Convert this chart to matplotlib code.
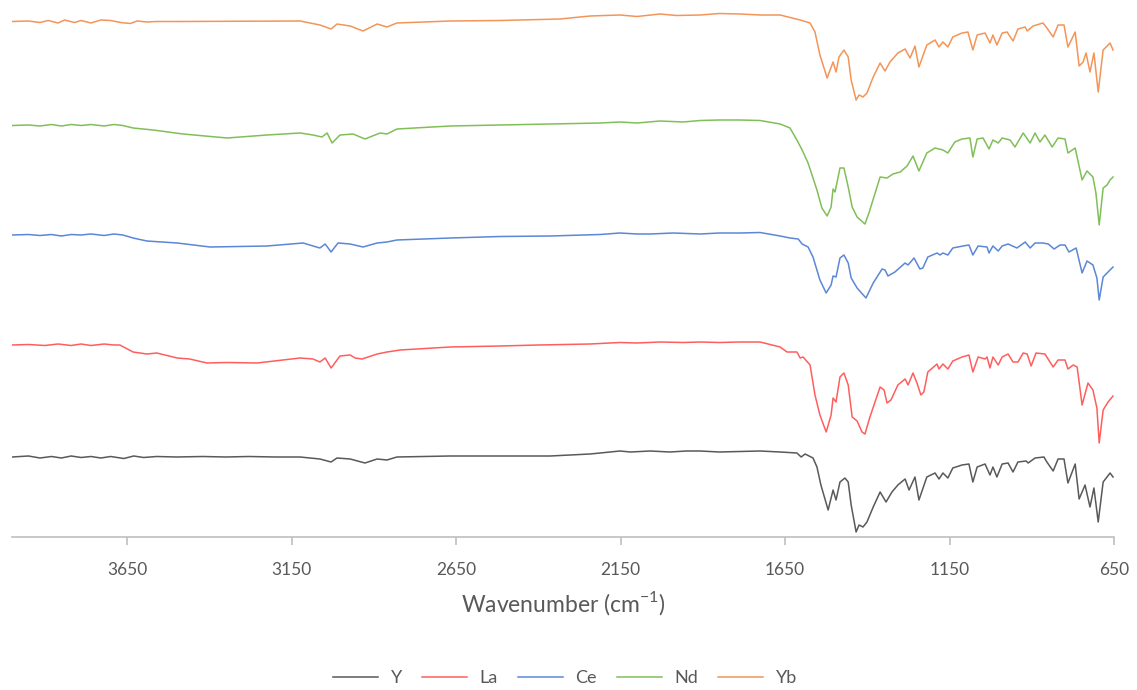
import matplotlib
matplotlib.use('Agg')
import numpy as np
from matplotlib import pyplot as plt

# stacked FTIR spectra, arbitrary transmittance units (already offset)
y_wn = [4000, 3950, 3915, 3880, 3850, 3820, 3790, 3760, 3730, 3700, 3660, 3630, 3600, 3560,
        3500, 3420, 3350, 3280, 3200, 3124, 3064, 3030, 3012, 2972, 2927, 2890, 2860, 2830,
        2668, 2500, 2364, 2243, 2212, 2152, 2120, 2060, 2000, 1950, 1908, 1850, 1787, 1726,
        1665, 1614, 1601, 1589, 1565, 1553, 1541, 1519, 1504, 1495, 1483, 1468, 1458, 1449,
        1434, 1425, 1413, 1401, 1382, 1361, 1343, 1325, 1307, 1285, 1273, 1255, 1243, 1219,
        1194, 1182, 1170, 1155, 1140, 1112, 1091, 1079, 1066, 1042, 1027, 1018, 1006, 990,
        972, 957, 942, 917, 911, 890, 863, 854, 835, 820, 802, 790, 768, 756, 738, 723, 711,
        698, 683, 662, 653]
y_t = [16.6, 16.8, 16.4, 16.7, 16.4, 16.8, 16.5, 16.7, 16.4, 16.7, 16.3, 16.8, 16.5, 16.7,
       16.6, 16.7, 16.6, 16.7, 16.6, 16.6, 16.2, 15.6, 16.4, 16.2, 15.4, 16.2, 16.0, 16.6,
       16.8, 16.8, 16.8, 17.2, 17.4, 17.8, 17.6, 17.8, 17.6, 17.8, 17.8, 17.6, 17.7, 17.8,
       17.6, 17.4, 16.6, 17.2, 16.4, 14.6, 11.0, 6.0, 10.0, 8.0, 11.6, 12.4, 11.6, 7.0,
       1.6, 3.0, 2.6, 3.6, 6.6, 9.6, 7.6, 9.6, 11.0, 12.2, 10.0, 12.6, 8.0, 12.6,
       13.4, 12.2, 13.4, 12.4, 14.4, 15.0, 15.2, 11.6, 14.6, 15.2, 13.0, 14.6, 12.6, 15.2,
       15.4, 13.6, 15.6, 15.8, 15.4, 16.4, 16.6, 15.6, 13.8, 16.2, 16.2, 11.4, 15.2, 8.2,
       11.0, 6.6, 10.4, 3.6, 11.6, 13.4, 12.6]

la_wn = [4000, 3950, 3900, 3860, 3820, 3790, 3760, 3720, 3690, 3672, 3632, 3590, 3560, 3498,
         3460, 3407, 3346, 3255, 3124, 3085, 3064, 3048, 3030, 3003, 2972, 2957, 2936, 2890,
         2860, 2820, 2668, 2516, 2400, 2243, 2152, 2100, 2030, 1960, 1908, 1850, 1787, 1726,
         1665, 1644, 1614, 1604, 1595, 1574, 1559, 1544, 1525, 1510, 1504, 1495, 1483, 1471,
         1458, 1446, 1431, 1416, 1407, 1392, 1361, 1349, 1340, 1328, 1307, 1285, 1276, 1261,
         1249, 1237, 1228, 1216, 1188, 1182, 1170, 1155, 1140, 1112, 1091, 1079, 1063, 1042,
         1036, 1027, 1018, 1002, 990, 972, 957, 942, 926, 914, 902, 887, 860, 835, 820, 799,
         790, 774, 762, 747, 729, 714, 702, 695, 683, 668, 653]
la_t = [39.0, 39.1, 38.9, 39.2, 38.9, 39.2, 38.9, 39.2, 39.0, 39.0, 37.6, 37.2, 37.4, 36.4,
        36.2, 35.4, 35.5, 35.4, 36.4, 36.2, 35.6, 36.4, 34.4, 36.8, 37.0, 36.4, 36.2, 37.2,
        37.6, 38.0, 38.6, 38.8, 39.0, 39.2, 39.5, 39.4, 39.6, 39.5, 39.6, 39.5, 39.6, 39.6,
        38.6, 37.6, 37.6, 36.4, 36.6, 35.0, 29.0, 25.0, 21.6, 25.0, 28.4, 27.6, 32.6, 33.4,
        31.0, 24.6, 23.8, 21.6, 21.2, 24.6, 30.6, 30.0, 27.4, 28.0, 31.0, 32.2, 31.0, 33.4,
        31.4, 29.0, 29.6, 33.6, 35.2, 34.2, 35.2, 34.2, 35.8, 36.6, 37.0, 33.6, 36.6, 36.2,
        36.6, 34.4, 36.6, 35.0, 36.6, 37.2, 35.6, 35.6, 37.4, 37.2, 34.8, 37.4, 37.2, 34.6,
        36.0, 36.0, 34.2, 35.0, 34.6, 27.0, 31.4, 30.0, 26.4, 19.4, 26.0, 27.6, 28.8]

ce_wn = [4000, 3950, 3915, 3880, 3850, 3820, 3790, 3760, 3720, 3690, 3663, 3632, 3590, 3498,
         3398, 3225, 3115, 3064, 3048, 3030, 3009, 2972, 2933, 2890, 2860, 2830, 2668, 2516,
         2364, 2212, 2152, 2100, 2060, 1990, 1908, 1850, 1787, 1726, 1665, 1635, 1610, 1598,
         1580, 1565, 1544, 1525, 1510, 1504, 1495, 1483, 1471, 1458, 1449, 1431, 1404, 1382,
         1355, 1346, 1337, 1316, 1285, 1276, 1258, 1240, 1231, 1216, 1188, 1179, 1170, 1155,
         1140, 1109, 1091, 1079, 1063, 1036, 1030, 1018, 1002, 990, 972, 945, 920, 905, 890,
         866, 850, 832, 814, 799, 787, 765, 747, 732, 714, 702, 695, 683, 668, 653]
ce_t = [61.0, 61.1, 60.9, 61.1, 60.8, 61.1, 61.0, 61.2, 60.9, 61.2, 61.0, 60.4, 59.8, 59.4,
        58.6, 58.8, 59.4, 58.4, 59.2, 57.6, 59.4, 59.2, 58.6, 59.4, 59.6, 60.0, 60.4, 60.7,
        60.8, 61.1, 61.4, 61.2, 61.2, 61.4, 61.2, 61.4, 61.4, 61.5, 60.8, 60.4, 60.2, 59.2,
        58.6, 56.6, 52.0, 49.4, 51.0, 52.8, 52.6, 56.4, 57.0, 55.4, 52.4, 50.4, 48.4, 51.4,
        54.2, 54.0, 52.8, 53.6, 55.4, 55.0, 56.4, 54.2, 54.4, 56.6, 57.4, 57.0, 57.4, 57.0,
        58.4, 58.8, 59.0, 57.0, 58.8, 58.6, 57.4, 58.8, 57.8, 58.8, 59.2, 58.4, 59.6, 58.4, 59.4,
        59.4, 59.2, 58.2, 59.0, 59.0, 57.6, 58.4, 53.4, 55.8, 55.0, 52.4, 48.0, 52.6, 53.6, 54.6]

nd_wn = [4000, 3950, 3915, 3880, 3850, 3820, 3790, 3760, 3720, 3690, 3663, 3632, 3571, 3480,
         3346, 3225, 3124, 3085, 3058, 3042, 3027, 3003, 2963, 2927, 2881, 2860, 2830, 2668,
         2516, 2364, 2212, 2152, 2100, 2030, 1960, 1908, 1850, 1787, 1726, 1665, 1635, 1614,
         1598, 1580, 1553, 1538, 1522, 1510, 1504, 1498, 1483, 1471, 1458, 1446, 1431, 1407,
         1395, 1361, 1340, 1322, 1300, 1279, 1261, 1243, 1219, 1194, 1170, 1155, 1134, 1112,
         1088, 1079, 1066, 1048, 1030, 1018, 1002, 990, 966, 951, 926, 905, 890, 875, 860, 838,
         820, 799, 790, 768, 747, 732, 714, 705, 695, 683, 671, 662, 653]
nd_t = [82.9, 83.0, 82.8, 83.1, 82.8, 83.1, 82.9, 83.1, 82.8, 83.1, 82.9, 82.4, 82.0, 81.2,
        80.4, 81.0, 81.4, 81.0, 80.6, 81.4, 79.4, 81.0, 81.2, 80.2, 81.4, 81.2, 82.2, 82.8,
        83.0, 83.2, 83.4, 83.6, 83.4, 83.8, 83.6, 83.9, 84.0, 84.0, 83.9, 83.2, 82.4, 80.0,
        78.0, 75.4, 70.0, 66.4, 64.8, 66.6, 70.2, 69.6, 74.4, 74.4, 70.6, 66.6, 64.6, 63.2,
        65.4, 72.6, 72.4, 73.2, 73.6, 74.8, 76.8, 73.8, 77.4, 78.4, 78.0, 77.4, 79.6, 80.2,
        80.4, 76.6, 80.2, 80.4, 78.2, 80.0, 79.4, 80.4, 80.0, 78.6, 81.4, 79.4, 81.4, 79.6, 81.0, 78.6,
        80.4, 80.2, 77.4, 78.4, 72.0, 73.8, 72.6, 69.4, 63.0, 70.4, 71.0, 72.0, 72.6]

yb_wn = [4000, 3950, 3915, 3890, 3860, 3840, 3810, 3790, 3760, 3730, 3700, 3670, 3640, 3620,
         3590, 3560, 3500, 3124, 3064, 3030, 3012, 2972, 2933, 2890, 2860, 2830, 2668, 2516,
         2334, 2243, 2152, 2100, 2030, 1980, 1908, 1850, 1787, 1726, 1665, 1604, 1574, 1559,
         1544, 1522, 1504, 1495, 1486, 1471, 1458, 1449, 1434, 1425, 1413, 1401, 1382, 1361,
         1346, 1331, 1307, 1285, 1270, 1255, 1243, 1219, 1194, 1182, 1170, 1155, 1140, 1112,
         1094, 1079, 1066, 1042, 1027, 1018, 1006, 990, 975, 957, 942, 920, 914, 896, 866, 854,
         835, 820, 802, 790, 768, 756, 744, 735, 723, 711, 698, 683, 662, 653]
yb_t = [103.7, 103.8, 103.5, 103.9, 103.4, 104.0, 103.5, 103.9, 103.4, 104.0, 103.9, 103.5,
        103.3, 103.8, 103.6, 103.7, 103.7, 103.8, 103.0, 102.2, 103.2, 102.8, 101.8, 103.2,
        102.6, 103.4, 103.8, 103.9, 104.2, 104.8, 105.0, 104.7, 105.2, 104.9, 105.0, 105.3,
        105.2, 105.0, 105.0, 104.0, 103.4, 101.6, 97.0, 92.4, 95.6, 93.6, 96.6, 98.0, 96.6,
        92.0, 88.0, 89.0, 88.6, 89.4, 92.6, 95.4, 93.8, 95.6, 97.4, 98.2, 96.4, 98.8, 94.6,
        99.0, 100.0, 98.6, 99.6, 98.6, 100.6, 101.4, 101.6, 98.0, 101.0, 101.4, 99.4, 101.0,
        99.0, 101.4, 101.6, 99.8, 102.2, 102.6, 101.8, 102.8, 103.4, 102.4, 100.6, 103.0,
        103.0, 98.6, 101.6, 94.8, 95.6, 97.4, 93.6, 97.4, 89.6, 98.0, 99.4, 98.0]

labels = ['Y', 'La', 'Ce', 'Nd', 'Yb']
colors = ['#595959', '#FF5E5E', '#5B87D6', '#80BF58', '#F39558']
ticks = [3650, 3150, 2650, 2150, 1650, 1150, 650]

plt.rcParams['font.family'] = ['Lato', 'DejaVu Sans']

fig = plt.figure(figsize=(11.37, 6.90), dpi=100)
ax = fig.add_axes([12 / 1137, 153 / 690, 1102 / 1137, 532 / 690])

series = [(y_wn, y_t), (la_wn, la_t), (ce_wn, ce_t), (nd_wn, nd_t), (yb_wn, yb_t)]
for (wn, t), lab, c in zip(series, labels, colors):
    ax.plot(wn, t, color=c, lw=1.1, label=lab)

ax.set_xlim(4000, 650)
ax.set_ylim(0.6, 107)
ax.set_xticks(ticks)
ax.set_yticks([])
for s in ['left', 'top', 'right']:
    ax.spines[s].set_visible(False)
ax.spines['bottom'].set_color('#BFBFBF')
ax.spines['bottom'].set_linewidth(1.2)
ax.tick_params(axis='x', direction='out', length=6, width=1.2, color='#BFBFBF',
               labelcolor='#595959', labelsize=12.5, pad=12)
ax.set_xlabel(r'Wavenumber (cm$^{\mathregular{-1}}$)', fontsize=16.5, color='#595959', labelpad=8)

fig.legend(loc='center', bbox_to_anchor=(0.497, 12 / 690), ncol=5, frameon=False,
           fontsize=13, handlelength=2.5, columnspacing=1.1, handletextpad=0.7,
           labelcolor='#595959')

fig.savefig('out.png', dpi=100)
